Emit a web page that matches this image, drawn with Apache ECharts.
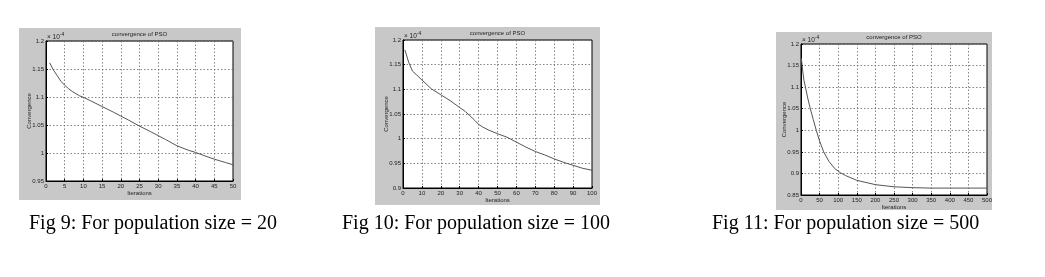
<!DOCTYPE html>
<html>
<head>
<meta charset="utf-8">
<style>
html,body{margin:0;padding:0;background:#fff;}
#c{width:1045px;height:277px;}
</style>
<script src="https://cdn.jsdelivr.net/npm/echarts@6/dist/echarts.min.js"></script>
</head>
<body>
<div id="c"></div>
<script>
// ---- data (convergence values in units of 1e-4) ----
const captions = ["Fig 9: For population size = 20", "Fig 10: For population size = 100", "Fig 11: For population size = 500"];
const chartTitle = "convergence of PSO";
const xName = "Iterations";
const yName = "Convergence";

const iter20 = [1,2,3,4,5,6,7,8,9,10,12,15,18,20,22,25,28,30,32,35,38,40,42,45,48,50];
const conv20 = [1.161,1.148,1.138,1.128,1.121,1.115,1.110,1.106,1.102,1.0995,1.093,1.083,1.073,1.066,1.059,1.048,1.038,1.031,1.024,1.013,1.005,1.001,0.996,0.989,0.983,0.979];

const iter100 = [1,3,5,7,10,15,20,25,30,33,35,38,40,42,45,50,55,60,65,70,75,80,85,90,95,100];
const conv100 = [1.180,1.155,1.137,1.130,1.119,1.101,1.089,1.077,1.063,1.055,1.048,1.037,1.029,1.024,1.018,1.010,1.003,0.993,0.983,0.974,0.967,0.959,0.952,0.946,0.940,0.936];

const iter500 = [1,3,5,8,12,18,25,33,41,50,61,75,90,105,120,150,200,250,300,350,400,450,500];
const conv500 = [1.167,1.150,1.135,1.115,1.100,1.075,1.050,1.025,1.000,0.975,0.950,0.928,0.912,0.902,0.895,0.884,0.874,0.869,0.867,0.866,0.866,0.866,0.866];

// axis ranges / tick steps
const xMax = [50, 100, 500];
const xStep = [5, 10, 50];
const yMin = [0.95, 0.9, 0.85];
const yMax = [1.2, 1.2, 1.2];
const yStep = [0.05, 0.05, 0.05];

// ---- layout (pixels) ----
const panels = [
  {box:[19,28,222,172], plot:[46,41,233,181], cap:[29,230], data:[iter20, conv20]},
  {box:[375,27,225,178], plot:[403,40,592,188], cap:[342,230], data:[iter100, conv100]},
  {box:[776,32,216,178], plot:[801,44,987,195], cap:[712,230], data:[iter500, conv500]}
];

const grids = [], xAxes = [], yAxes = [], series = [], graphics = [], titles = [];
const fmt = v => String(Number(v.toFixed(2)));
const FONT = 'Liberation Sans, Arial, sans-serif';
const labelFont = {fontFamily:FONT, fontSize:6, color:'#222'};

panels.forEach((p, i) => {
  graphics.push({type:'rect', z:-10, shape:{x:p.box[0], y:p.box[1], width:p.box[2], height:p.box[3]}, style:{fill:'#c8c8c8'}});
  grids.push({left:p.plot[0], top:p.plot[1], width:p.plot[2]-p.plot[0], height:p.plot[3]-p.plot[1],
    show:true, backgroundColor:'#fff', borderColor:'#000', borderWidth:1});
  xAxes.push({type:'value', gridIndex:i, min:0, max:xMax[i], interval:xStep[i],
    name:xName, nameLocation:'middle', nameGap:9, nameMoveOverlap:false, nameTextStyle:Object.assign({}, labelFont),
    axisLine:{show:true, lineStyle:{color:'#000', width:1}},
    axisTick:{show:true, inside:true, length:2, lineStyle:{color:'#000'}},
    axisLabel:Object.assign({margin:2, formatter: v => String(v)}, labelFont),
    splitLine:{show:true, lineStyle:{color:'#666', type:[1.5,2], width:0.8}}});
  yAxes.push({type:'value', gridIndex:i, min:yMin[i], max:yMax[i], interval:yStep[i],
    name:yName, nameLocation:'middle', nameRotate:90, nameGap:14, nameMoveOverlap:false, nameTextStyle:Object.assign({}, labelFont),
    axisLine:{show:true, lineStyle:{color:'#000', width:1}},
    axisTick:{show:true, inside:true, length:2, lineStyle:{color:'#000'}},
    axisLabel:Object.assign({margin:2, formatter: fmt}, labelFont),
    splitLine:{show:true, lineStyle:{color:'#666', type:[1.5,2], width:0.8}}});
  series.push({type:'line', xAxisIndex:i, yAxisIndex:i, showSymbol:false, silent:true,
    data:p.data[0].map((x, k) => [x, p.data[1][k]]),
    lineStyle:{color:'#555', width:1}});
  titles.push({text:chartTitle, left:(p.plot[0]+p.plot[2])/2, top:p.plot[1]-10, textAlign:'center', padding:0,
    textStyle:{fontFamily:FONT, fontSize:6, fontWeight:'normal', color:'#222'}});
  graphics.push({type:'text', left:p.plot[0]+1, top:p.plot[1]-9,
    style:{text:'{a|× 10}{s|-4}', rich:{a:{fontFamily:FONT, fontSize:6.5, fill:'#222'},
      s:{fontFamily:FONT, fontSize:5, fill:'#222', verticalAlign:'top', padding:[0,0,5,0]}}}});
  graphics.push({type:'text', left:p.cap[0], top:p.cap[1]-16,
    style:{text:captions[i], fontFamily:'Liberation Serif, Times New Roman, serif', fontSize:20, fill:'#000'}});
});

const chart = echarts.init(document.getElementById('c'), null, {renderer:'canvas'});
chart.setOption({
  animation:false,
  backgroundColor:'#fff',
  title:titles,
  grid:grids,
  xAxis:xAxes,
  yAxis:yAxes,
  series:series,
  graphic:graphics
});
</script>
</body>
</html>
